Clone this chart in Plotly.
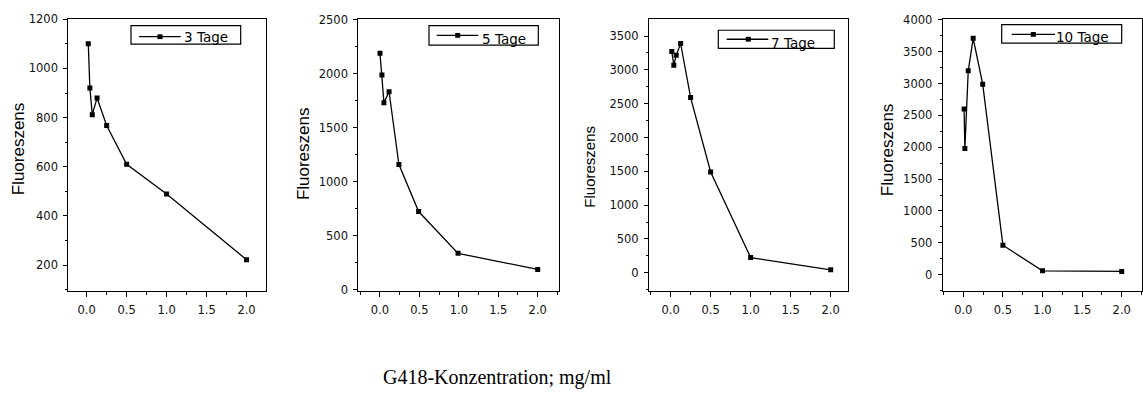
import plotly.graph_objects as go

W, H = 1143, 405

# ---- data ----
labels = ["3 Tage", "5 Tage", "7 Tage", "10 Tage"]
x_3 = [0.02, 0.04, 0.07, 0.13, 0.25, 0.5, 1.0, 2.0]
y_3 = [1100, 920, 812, 880, 768, 610, 489, 222]
x_5 = [0.0, 0.025, 0.05, 0.115, 0.24, 0.49, 0.99, 2.0]
y_5 = [2190, 1990, 1733, 1834, 1159, 723, 335, 186]
x_7 = [0.015, 0.04, 0.07, 0.125, 0.25, 0.5, 1.0, 2.0]
y_7 = [3270, 3070, 3215, 3390, 2590, 1490, 225, 43]
x_10 = [0.01, 0.02, 0.0625, 0.125, 0.245, 0.5, 1.0, 2.0]
y_10 = [2600, 1980, 3200, 3710, 2990, 463, 61, 51]
x_ticks = [0.0, 0.5, 1.0, 1.5, 2.0]
y_ticks_3 = [200, 400, 600, 800, 1000, 1200]
y_ticks_5 = [0, 500, 1000, 1500, 2000, 2500]
y_ticks_7 = [0, 500, 1000, 1500, 2000, 2500, 3000, 3500]
y_ticks_10 = [0, 500, 1000, 1500, 2000, 2500, 3000, 3500, 4000]
y_title = "Fluoreszens"
x_title = "G418-Konzentration; mg/ml"

series = [(x_3, y_3), (x_5, y_5), (x_7, y_7), (x_10, y_10)]
yticks = [y_ticks_3, y_ticks_5, y_ticks_7, y_ticks_10]

# ---- layout geometry (pixels) ----
boxes = [  # left, right, top, bottom
    (68.3, 265.7, 12.7, 293.3),
    (358.3, 559.0, 12.7, 293.3),
    (649.0, 848.3, 12.7, 293.3),
    (942.7, 1142.3, 12.7, 293.3),
]
xranges = [(-0.23, 2.24), (-0.275, 2.27), (-0.27, 2.22), (-0.26, 2.26)]
yranges = [(95, 1200), (-13, 2506), (-268, 3748), (-254, 4008)]
yminor = [100, 250, 250, 250]
# legend box: left, right, top, bottom ; line x0,x1,y ; marker x ; text x, text y
legend_box = [
    (131.0, 240.7, 19.3, 38.3),
    (429.0, 538.3, 19.3, 39.3),
    (718.3, 834.3, 24.0, 42.7),
    (1001.7, 1121.7, 18.3, 37.3),
]
legend_line = [(139.0, 180.7, 30.7), (436.7, 478.3, 29.3),
               (726.7, 768.3, 33.3), (1011.7, 1055.0, 28.3)]
legend_mark_x = [160.0, 457.7, 748.3, 1033.3]
legend_text = [(183.0, 31.5), (481.0, 33.5), (769.7, 37.5), (1054.7, 31.5)]
ytitle_pos = [(18, 147), (303, 152), (590, 165), (887, 148)]
ytitle_size = [17, 17, 15, 17]

tickfont = dict(family="DejaVu Sans", size=11.5, color="#111111")


def px(x):
    return x / W


def py(y):
    return 1 - y / H


fig = go.Figure()
layout = dict(
    width=W, height=H, margin=dict(l=0, r=0, t=0, b=0),
    paper_bgcolor="white", plot_bgcolor="white",
    showlegend=False, annotations=[], shapes=[],
)

for i, ((xs, ys), lab) in enumerate(zip(series, labels)):
    n = "" if i == 0 else str(i + 1)
    fig.add_trace(go.Scatter(
        x=xs, y=ys, mode="lines+markers", name=lab,
        line=dict(color="black", width=1.3),
        marker=dict(symbol="square", size=5, color="black"),
        xaxis=f"x{n}", yaxis=f"y{n}",
    ))
    l, r, t, b = boxes[i]
    layout[f"xaxis{n}"] = dict(
        domain=[px(l), px(r)], anchor=f"y{n}", range=list(xranges[i]),
        tickvals=x_ticks, tickformat=".1f", ticks="outside", ticklen=5,
        tickwidth=1, tickcolor="black", showline=True, linecolor="black",
        linewidth=1, mirror=True, showgrid=False, zeroline=False,
        tickfont=tickfont, ticklabelstandoff=3,
        minor=dict(dtick=0.25, tick0=0, ticks="outside", ticklen=3,
                   tickcolor="black", showgrid=False),
    )
    layout[f"yaxis{n}"] = dict(
        domain=[py(b), py(t)], anchor=f"x{n}", range=list(yranges[i]),
        tickvals=yticks[i], ticks="outside", ticklen=4, tickwidth=1,
        tickcolor="black", showline=True, linecolor="black", linewidth=1,
        mirror=True, showgrid=False, zeroline=False, tickfont=tickfont,
        ticklabelstandoff=3,
        minor=dict(dtick=yminor[i], tick0=0, ticks="outside", ticklen=2,
                   tickcolor="black", showgrid=False),
    )
    # legend-like box
    bl, br, bt, bb = legend_box[i]
    layout["shapes"].append(dict(
        type="rect", xref="paper", yref="paper",
        x0=px(bl), x1=px(br), y0=py(bb), y1=py(bt),
        line=dict(color="black", width=1.2), fillcolor="white", layer="above"))
    lx0, lx1, ly = legend_line[i]
    layout["shapes"].append(dict(
        type="line", xref="paper", yref="paper",
        x0=px(lx0), x1=px(lx1), y0=py(ly), y1=py(ly),
        line=dict(color="black", width=1.3), layer="above"))
    mx = legend_mark_x[i]
    layout["shapes"].append(dict(
        type="rect", xref="paper", yref="paper",
        x0=px(mx - 2.5), x1=px(mx + 2.5), y0=py(ly + 2.5), y1=py(ly - 2.5),
        line=dict(color="black", width=0), fillcolor="black", layer="above"))
    tx, tyy = legend_text[i]
    layout["annotations"].append(dict(
        text=lab, x=px(tx), y=py(tyy), xref="paper", yref="paper",
        showarrow=False, xanchor="left", yanchor="middle", borderpad=0,
        font=dict(family="DejaVu Sans", size=13.5, color="black"),
    ))
    ax, ay = ytitle_pos[i]
    layout["annotations"].append(dict(
        text=y_title, x=px(ax), y=py(ay), xref="paper", yref="paper",
        textangle=-90, showarrow=False, xanchor="center", yanchor="middle",
        font=dict(family="Liberation Sans", size=ytitle_size[i], color="black"),
    ))

layout["annotations"].append(dict(
    text=x_title, x=px(497), y=py(383), xref="paper", yref="paper",
    showarrow=False, xanchor="center", yanchor="middle",
    font=dict(family="Liberation Serif", size=20, color="black"),
))

fig.update_layout(**layout)
fig.write_html(
    "out.html",
    config={"displayModeBar": False},
    post_script="document.body.style.margin='0';document.body.style.overflow='hidden';",
)
